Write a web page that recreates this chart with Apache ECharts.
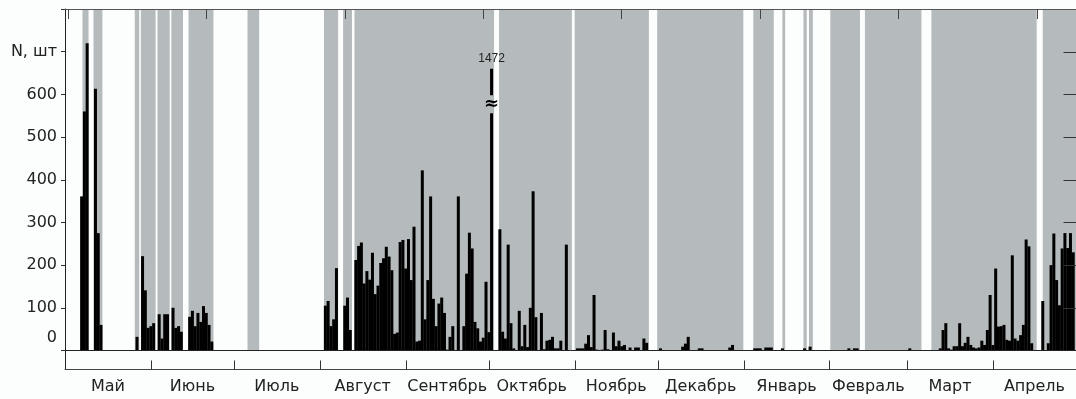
<!DOCTYPE html>
<html>
<head>
<meta charset="utf-8">
<script src="https://cdn.jsdelivr.net/npm/echarts@6/dist/echarts.min.js"></script>
<style>
  html, body { margin: 0; padding: 0; background: #fcfdfd; }
  #chart { width: 1076px; height: 399px; }
</style>
</head>
<body>
<div id="chart"></div>
<script>
// Month names for the season May .. April
const monthNames = ['Май', 'Июнь', 'Июль', 'Август', 'Сентябрь', 'Октябрь',
                    'Ноябрь', 'Декабрь', 'Январь', 'Февраль', 'Март', 'Апрель'];

// Daily counts N, one array per month
const may = [0,0,0,0,0,0,361,560,720,0,0,613,275,60,0,0,0,0,0,0,0,0,0,0,0,0,32,0,221,141,53];
const jun = [57,64,0,85,28,85,85,0,100,53,57,44,0,0,79,93,57,88,67,104,88,60,21,0,0,0,0,0,0,0];
const jul = [0,0,0,0,0,0,0,0,0,0,0,0,0,0,0,0,0,0,0,0,0,0,0,0,0,0,0,0,0,0,0];
const aug = [0,0,105,116,57,73,193,0,0,105,124,48,0,212,245,253,157,186,166,229,132,152,205,216,243,220,188,39,42,254,259];
const sep = [192,261,165,290,21,23,422,73,165,361,121,57,110,124,88,2,32,57,0,361,0,57,180,276,239,67,52,21,30,161];
const oct = [43,1472,0,0,284,44,28,248,64,5,0,93,10,60,8,100,373,78,0,88,3,23,25,32,5,5,23,0,248,0,0];
const nov = [0,5,5,5,16,36,8,130,2,0,2,48,3,0,42,10,23,10,13,0,7,0,7,7,0,28,18,0,0,0];
const dec = [0,5,0,0,0,0,0,0,0,9,16,32,0,0,0,5,5,0,0,0,0,0,0,0,0,0,7,13,0,0,0];
const jan = [0,0,0,0,5,5,5,0,7,7,7,0,0,0,5,0,0,0,0,0,0,0,5,0,9,0,0,0,0,0,0];
const feb = [0,0,0,0,0,0,0,5,0,5,5,0,0,0,0,0,0,0,0,0,0,0,0,0,0,0,0,0];
const mar = [0,5,0,0,0,0,0,0,0,0,0,0,5,48,64,5,2,10,10,64,10,18,32,13,7,5,7,23,13,48,130];
const apr = [13,192,56,57,60,25,23,223,28,23,36,60,260,244,17,0,0,0,116,0,17,200,274,165,106,239,275,240,275,230];

// Observation periods (shaded), in days from 1 May: [start, end]
const observationPeriods = [
  [6.3, 8.5], [10.3, 13.5], [25.2, 26.8], [27.4, 32.7], [33.4, 37.8], [38.4, 42.6],
  [44.6, 53.6], [65.9, 70.1], [93.5, 98.6], [100.4, 103.6], [104.5, 154.9],
  [156.7, 183.0], [184.0, 210.8], [213.8, 244.9], [248.5, 255.9], [259.0, 260.0],
  [266.6, 267.8], [268.6, 270.0], [276.3, 287.0], [288.8, 309.2], [312.8, 350.8],
  [353.0, 365]
];

// Y tick labels by hundreds; the 700 position carries the axis title
const yTickLabels = ['0', '100', '200', '300', '400', '500', '600', 'N, шт'];
const yTickValues = [100, 200, 300, 400, 500, 600, 700];
// Top-edge ticks every 50 days
const topTicks = [1, 51, 101, 151, 201, 251, 301, 351];

// Value scale: counts above yMax are drawn cut at breakAt with a break mark
const yMax = 800;
const breakAt = 660;

const months = [may, jun, jul, aug, sep, oct, nov, dec, jan, feb, mar, apr];
const monthStart = [];
const monthMid = [];
const bars = [];
const broken = [];
let day = 0;
months.forEach(arr => {
  monthStart.push(day);
  monthMid.push(day + arr.length / 2);
  arr.forEach((v, i) => {
    if (v <= 0) return;
    if (v > yMax) {
      bars.push({
        value: [day + i, breakAt],
        label: { show: true, position: 'top', distance: 4, formatter: String(v),
                 fontSize: 12, fontFamily: 'Liberation Sans', color: '#222' }
      });
      broken.push([day + i, v]);
    } else {
      bars.push([day + i, v]);
    }
  });
  day += arr.length;
});
const totalDays = day;

const FONT = 'DejaVu Sans';
const bandColor = '#b5babc';
const tickColor = '#333';
const left = 65, plotWidth = 1016;
const hidden = { show: false };

// short tick segment starting at pixel (x, y), offset in pixels
function tickLine(x, y, dx, dy) {
  x = Math.round(x) + 0.5; y = Math.round(y) + 0.5;
  return { type: 'line', shape: { x1: x, y1: y, x2: x + dx, y2: y + dy },
           style: { stroke: tickColor, lineWidth: 1 } };
}

const chart = echarts.init(document.getElementById('chart'), null, { renderer: 'canvas' });
chart.setOption({
  animation: false,
  backgroundColor: '#fcfdfd',
  grid: [
    { left: left, top: 9, width: plotWidth, height: 341.5 },
    { left: left, top: 350.5, width: plotWidth, height: 18.5 }
  ],
  xAxis: [
    { // baseline of the plot
      gridIndex: 0, type: 'value', position: 'bottom', min: 0, max: totalDays, z: 10,
      axisLine: { show: true, onZero: false, lineStyle: { color: '#222', width: 1 } },
      axisTick: hidden, axisLabel: hidden, splitLine: hidden
    },
    { // top frame with 50-day ticks
      gridIndex: 0, type: 'value', position: 'top', min: 0, max: totalDays, z: 10,
      axisLine: { show: true, onZero: false, lineStyle: { color: '#555', width: 1 } },
      axisTick: { show: true, inside: true, length: 10, customValues: topTicks,
                  lineStyle: { color: '#444' } },
      axisLabel: hidden, splitLine: hidden
    },
    { // month axis
      gridIndex: 1, type: 'value', position: 'bottom', min: 0, max: totalDays, z: 10,
      axisLine: { show: true, onZero: false, lineStyle: { color: '#444', width: 1 } },
      axisTick: hidden,
      axisLabel: {
        show: true, customValues: monthMid, margin: 10,
        fontSize: 16, fontFamily: FONT, color: '#222',
        formatter: v => monthNames[monthMid.indexOf(v)] || ''
      },
      splitLine: hidden
    }
  ],
  yAxis: [
    {
      gridIndex: 0, type: 'value', position: 'left', min: 0, max: yMax, interval: 100, z: 10,
      axisLine: { show: true, onZero: false, lineStyle: { color: '#222', width: 1 } },
      axisTick: { show: true, inside: false, length: 4, lineStyle: { color: tickColor } },
      axisLabel: {
        show: true, margin: 8, fontSize: 16, fontFamily: FONT, color: '#222',
        formatter: v => v === 0 ? '{z|0}' : (yTickLabels[v / 100] || ''),
        rich: { z: { padding: [0, 0, 26, 0], fontSize: 16, fontFamily: FONT, color: '#222' } }
      },
      splitLine: hidden
    },
    {
      gridIndex: 0, type: 'value', position: 'right', min: 0, max: yMax, z: 10,
      axisLine: { show: true, onZero: false, lineStyle: { color: '#222' } },
      axisTick: hidden, axisLabel: hidden, splitLine: hidden
    },
    {
      gridIndex: 1, type: 'value', min: 0, max: 1, z: 10,
      axisLine: { show: true, onZero: false, lineStyle: { color: '#222' } },
      axisTick: hidden, axisLabel: hidden, splitLine: hidden
    }
  ],
  series: [
    {
      name: 'periods', type: 'custom', xAxisIndex: 0, yAxisIndex: 0, z: 1, silent: true,
      data: observationPeriods,
      encode: { x: [0, 1] },
      renderItem: (params, api) => {
        const p0 = api.coord([api.value(0), yMax]);
        const p1 = api.coord([api.value(1), 0]);
        return { type: 'rect',
                 shape: { x: p0[0], y: p0[1], width: p1[0] - p0[0], height: p1[1] - p0[1] },
                 style: { fill: bandColor } };
      }
    },
    {
      name: 'N', type: 'bar', xAxisIndex: 0, yAxisIndex: 0, z: 2,
      barWidth: 3, itemStyle: { color: '#000' },
      data: bars
    },
    {
      name: 'break', type: 'custom', xAxisIndex: 0, yAxisIndex: 0, z: 3, silent: true,
      data: broken,
      renderItem: (params, api) => {
        const d = api.value(0);
        const a = api.coord([d - 0.7, breakAt * 0.906]);
        const b = api.coord([d + 0.7, breakAt * 0.842]);
        const c = api.coord([d, breakAt * 0.875]);
        return { type: 'group', children: [
          { type: 'rect', shape: { x: a[0], y: a[1], width: b[0] - a[0], height: b[1] - a[1] },
            style: { fill: bandColor } },
          { type: 'text', x: c[0], y: c[1],
            style: { text: '≈', fontSize: 18, fontWeight: 'bold', fontFamily: FONT,
                     fill: '#000', align: 'center', verticalAlign: 'middle' } }
        ] };
      }
    },
    { // ticks along the right frame, pointing inwards
      name: 'rightTicks', type: 'custom', xAxisIndex: 0, yAxisIndex: 0, z: 12, silent: true,
      clip: false,
      data: yTickValues.map(v => [0, v]),
      renderItem: (params, api) => {
        const cs = params.coordSys;
        const p = api.coord([0, api.value(1)]);
        return tickLine(cs.x + cs.width, p[1], -13, 0);
      }
    },
    { // month boundary ticks on the month axis
      name: 'monthTicks', type: 'custom', xAxisIndex: 2, yAxisIndex: 2, z: 12, silent: true,
      clip: false,
      data: monthStart.slice(1).map(v => [v, 0]),
      renderItem: (params, api) => {
        const p = api.coord([api.value(0), 0]);
        return tickLine(p[0], p[1], 0, -9);
      }
    }
  ]
});
</script>
</body>
</html>
